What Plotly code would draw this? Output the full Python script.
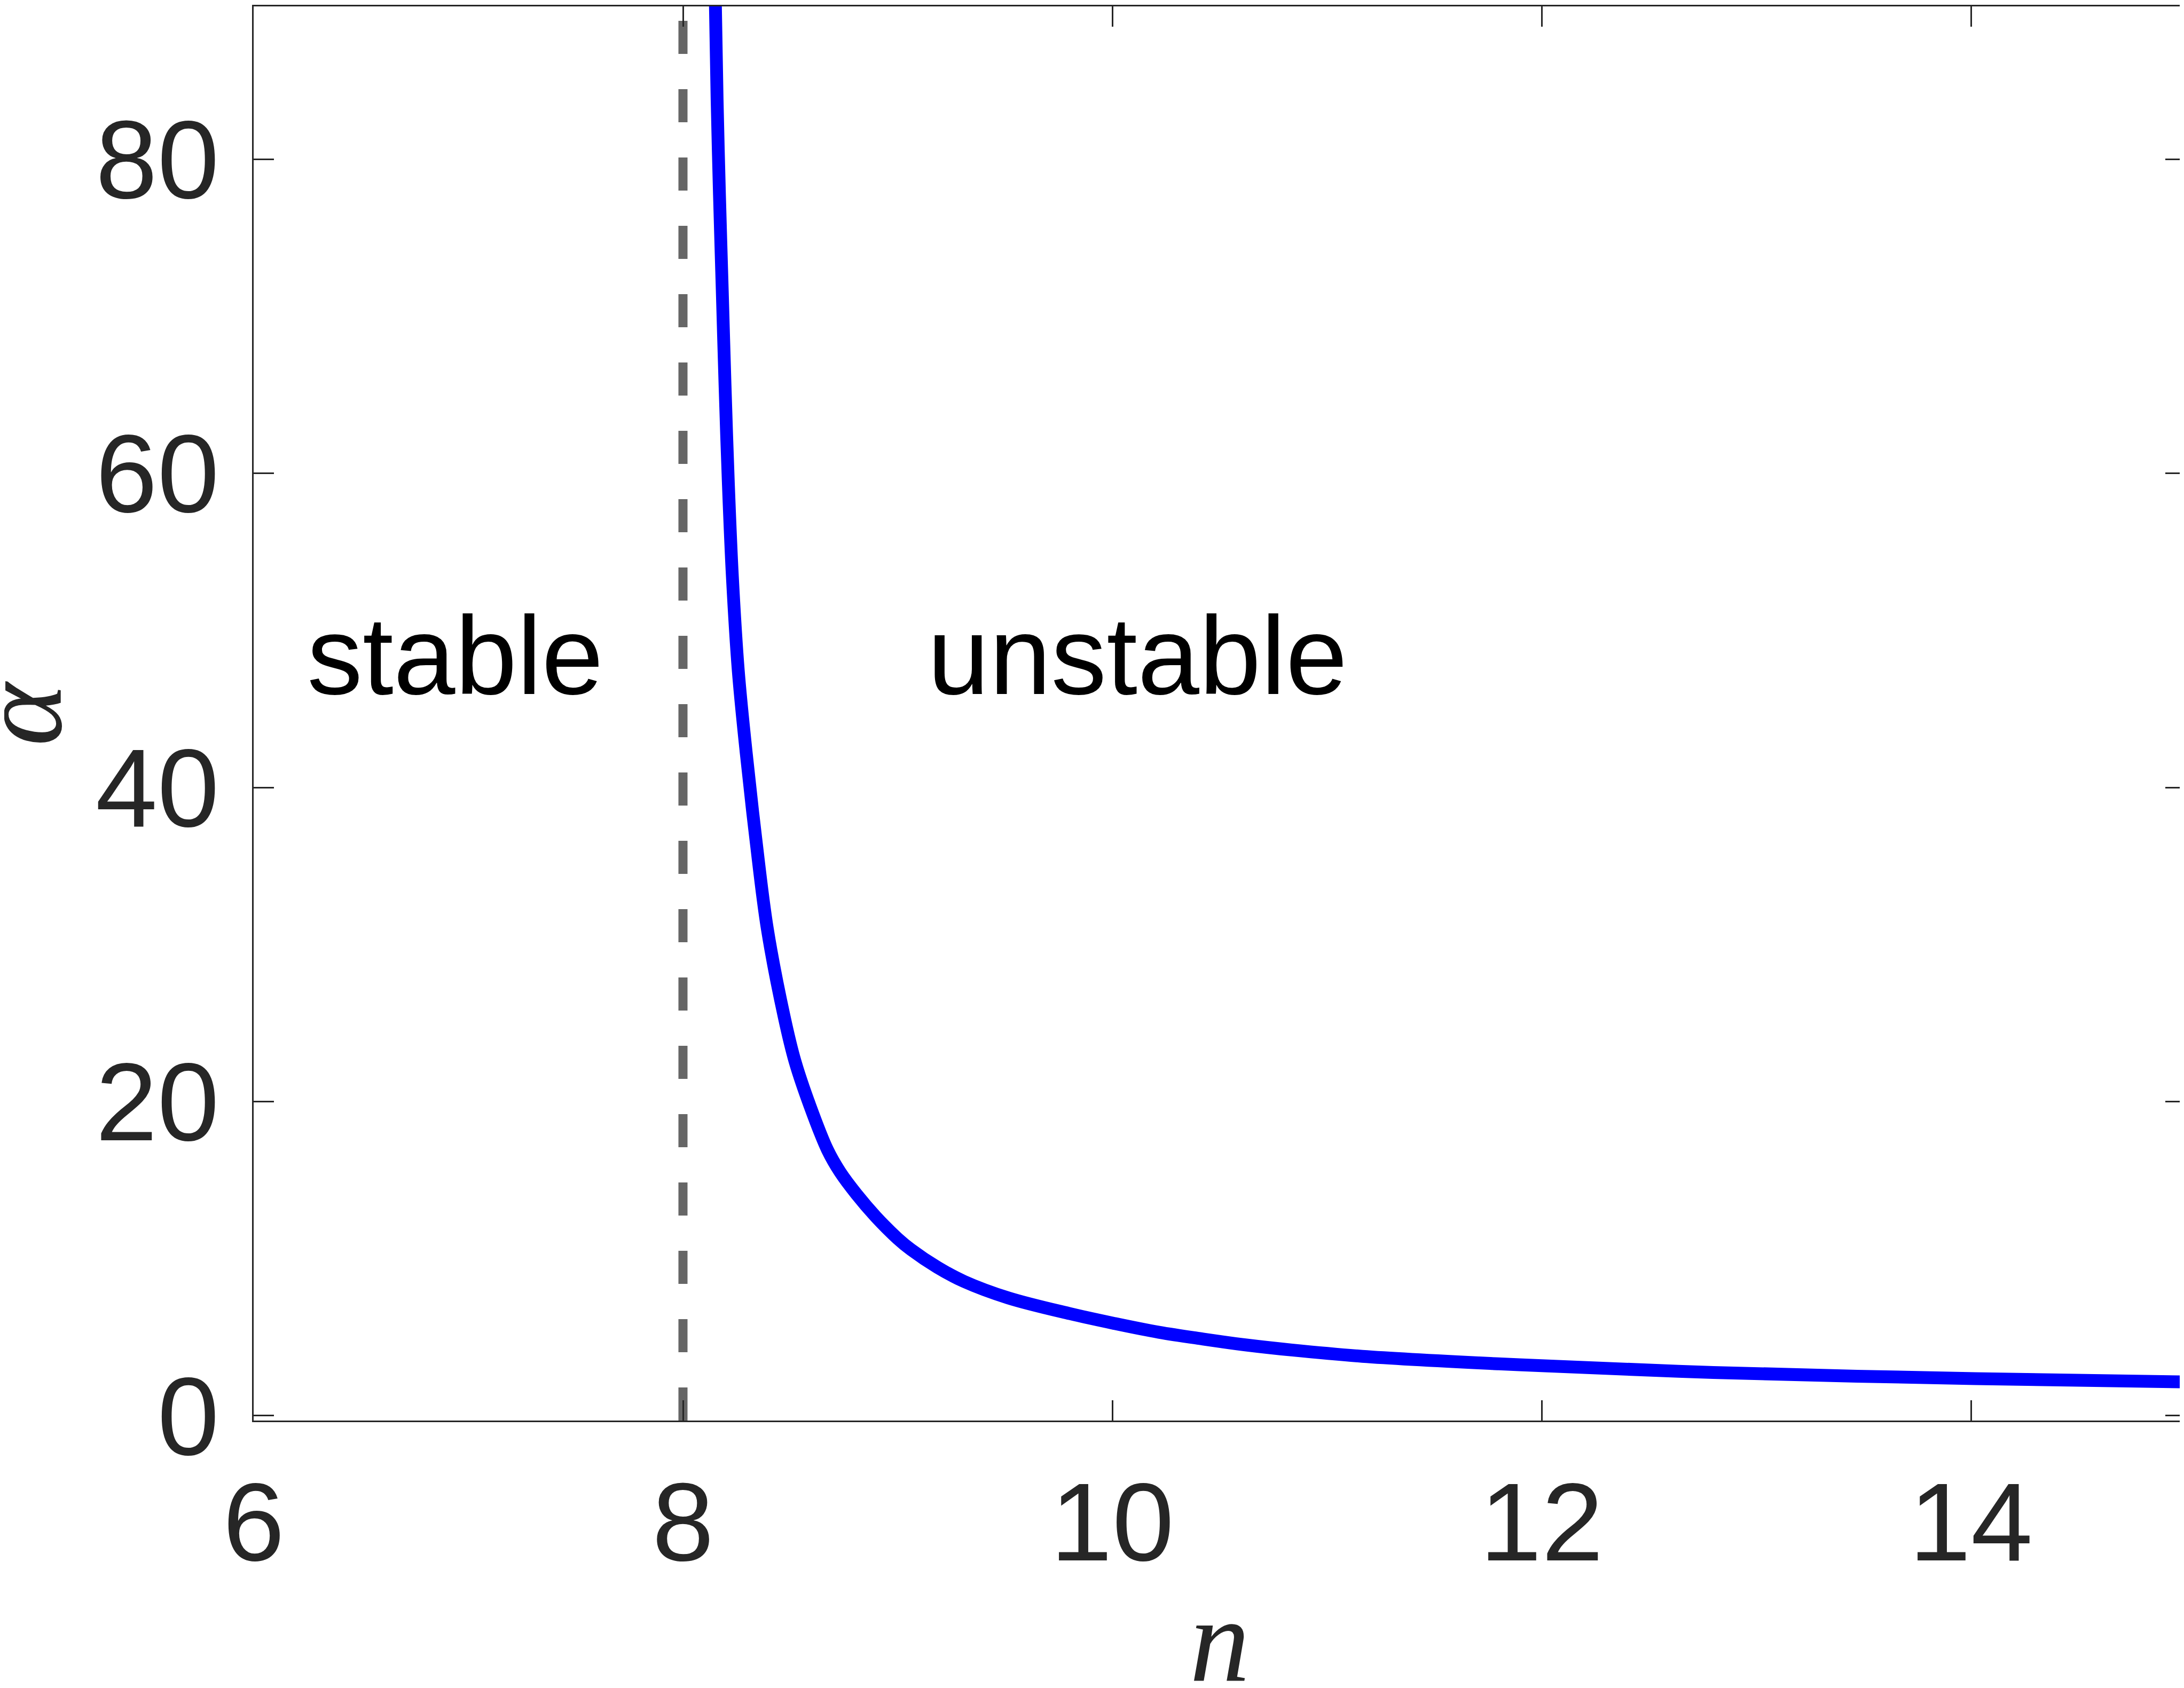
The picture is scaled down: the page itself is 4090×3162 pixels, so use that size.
import plotly.graph_objects as go

# blue boundary curve
n_curve = [8.151, 8.159, 8.170, 8.183, 8.196, 8.211, 8.230, 8.258, 8.294,
           8.340, 8.393, 8.472, 8.522, 8.591, 8.673, 8.732, 8.808, 8.897,
           9.000, 9.062, 9.185, 9.309, 9.515, 9.804, 10.010, 10.217, 10.423,
           10.630, 10.836, 11.165, 11.800, 12.000, 12.800, 14.020, 15.000]
alpha_curve = [89.9, 83.80, 77.74, 71.65, 65.60, 59.52, 53.47, 47.38, 42.28,
               36.65, 31.00, 25.37, 22.56, 19.75, 16.93, 15.51, 14.11, 12.69,
               11.28, 10.58, 9.45, 8.55, 7.50, 6.49, 5.87, 5.31, 4.88,
               4.49, 4.18, 3.78, 3.30, 3.18, 2.75, 2.36, 2.15]

# dashed vertical marker at n = 8
n_dash = [8, 8]
alpha_dash = [-0.31, 89.73]

x_ticks = [6, 8, 10, 12, 14]
y_ticks = [0, 20, 40, 60, 80]

region_labels = ["stable", "unstable"]
region_n = [6.246, 9.137]
region_alpha = [48.4, 48.4]

AXIS_COLOR = "#262626"
TICK_FONT = dict(family="Liberation Sans, Arial, sans-serif", size=208, color=AXIS_COLOR)
LABEL_FONT = dict(family="Liberation Serif, Times New Roman, serif", size=225,
                  color=AXIS_COLOR, style="italic")

fig = go.Figure()
fig.add_trace(go.Scatter(
    x=n_dash, y=alpha_dash, mode="lines",
    line=dict(color="#666666", width=17, dash="62px,66px"),
    showlegend=False, hoverinfo="skip",
))
fig.add_trace(go.Scatter(
    x=n_curve, y=alpha_curve, mode="lines",
    line=dict(color="#0000ff", width=24, shape="spline", smoothing=1.0),
    showlegend=False,
))

for txt, xn, ya in zip(region_labels, region_n, region_alpha):
    fig.add_annotation(
        x=xn, y=ya, text=txt, showarrow=False,
        xanchor="left", yanchor="middle", borderpad=0,
        font=dict(family="Liberation Sans, Arial, sans-serif", size=208, color="black"),
    )

# axis titles placed as paper annotations (standoff is ignored without automargin)
fig.add_annotation(
    x=0.5, y=-0.155, xref="paper", yref="paper", text="n", showarrow=False,
    xanchor="center", yanchor="middle", borderpad=0, font=LABEL_FONT,
)
fig.add_annotation(
    x=-0.1210, y=0.5, xref="paper", yref="paper", text="α", showarrow=False,
    textangle=-90, xanchor="center", yanchor="middle", borderpad=0, font=LABEL_FONT,
)

axis_common = dict(
    showgrid=False, zeroline=False,
    showline=True, linecolor=AXIS_COLOR, linewidth=3, mirror="ticks",
    ticks="inside", ticklen=38, tickwidth=3, tickcolor=AXIS_COLOR,
    tickfont=TICK_FONT, automargin=False,
)

fig.update_xaxes(range=[6, 15], tickvals=x_ticks, ticklabelstandoff=9, **axis_common)
fig.update_yaxes(range=[-0.31, 89.73], tickvals=y_ticks, ticklabelstandoff=20, **axis_common)

fig.update_layout(
    width=4090, height=3162,
    margin=dict(l=467, r=5, t=4, b=509),
    paper_bgcolor="white", plot_bgcolor="white",
)

fig.write_html("out.html")
